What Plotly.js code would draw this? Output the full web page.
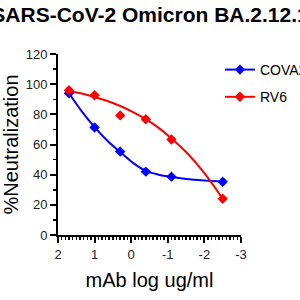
<!DOCTYPE html>
<html>
<head>
<meta charset="utf-8">
<script src="https://cdn.plot.ly/plotly-3.0.1.min.js"></script>
<style>html,body{margin:0;padding:0;background:#fff;}#chart{width:300px;height:300px;}</style>
</head>
<body>
<div id="chart"></div>
<script>
// Measured points (x = log10 concentration, y = % neutralization)
const doseLog = [1.7, 1.0, 0.3, -0.4, -1.1, -2.5];
const covaPct = [94, 71.3, 55.3, 42, 38.7, 35.3];
const rv6Pct  = [96, 92.7, 79.3, 76.7, 63.3, 24];

// Fitted curves
const curveX     = [1.7, 1.35, 1.0, 0.65, 0.3, -0.05, -0.4, -0.75, -1.1, -1.5, -2.0, -2.5];
const covaCurveY = [94, 82, 71.5, 62.5, 55, 47.8, 42.5, 40, 38.5, 37.2, 36.2, 35.5];
const rv6CurveY  = [95.5, 93.8, 91.5, 88.8, 85.5, 81.5, 76.8, 71, 64, 55, 41, 24];

const seriesNames = ["COVA2-07", "RV6"];
const xTickVals = [2, 1, 0, -1, -2, -3];
const xTickText = ["2", "1", "0", "-1", "-2", "-3"];
const yTickVals = [0, 20, 40, 60, 80, 100, 120];

const BLUE = "#0000ff", RED = "#ff0000";
const FONT = "Liberation Sans, Arial, sans-serif";

function group(name, color, ys, curveY) {
  return [
    {x: curveX, y: curveY, mode: "lines", line: {color: color, width: 2, shape: "spline"},
     showlegend: false, legendgroup: name, hoverinfo: "skip"},
    {x: doseLog, y: ys, mode: "markers", marker: {symbol: "diamond", size: 8, color: color},
     showlegend: false, legendgroup: name},
    {x: [null], y: [null], mode: "lines+markers", name: name, legendgroup: name,
     line: {color: color, width: 2}, marker: {symbol: "diamond", size: 8, color: color}}
  ];
}

const data = [].concat(
  group(seriesNames[0], BLUE, covaPct, covaCurveY),
  group(seriesNames[1], RED, rv6Pct, rv6CurveY)
);

const axisCommon = {
  showline: true, linecolor: "#000", linewidth: 2, showgrid: false, zeroline: false,
  ticks: "outside", ticklen: 6, tickwidth: 2, tickcolor: "#000",
  tickfont: {family: FONT, size: 13, color: "#222"}
};

const layout = {
  width: 300, height: 300,
  margin: {l: 58, r: 59, t: 54, b: 65, autoexpand: false},
  paper_bgcolor: "#fff", plot_bgcolor: "#fff",
  title: {text: "<b>SARS-CoV-2 Omicron BA.2.12.1</b>", x: 0.5, xanchor: "center", y: 0.95, yanchor: "middle",
          font: {family: FONT, size: 21, color: "#000"}},
  xaxis: Object.assign({}, axisCommon, {
    range: [2, -3], tickmode: "array", tickvals: xTickVals, ticktext: xTickText,
    minor: {dtick: 0.1, ticks: "outside", ticklen: 3, tickwidth: 1.5, tickcolor: "#000"},
    title: {text: "mAb log ug/ml", font: {family: FONT, size: 20, color: "#000"}, standoff: 12}
  }),
  yaxis: Object.assign({}, axisCommon, {
    range: [0, 120], tickmode: "array", tickvals: yTickVals,
    minor: {dtick: 10, ticks: "outside", ticklen: 3, tickwidth: 1.5, tickcolor: "#000"},
    title: {text: "%Neutralization", font: {family: FONT, size: 20, color: "#000"}, standoff: 8}
  }),
  legend: {x: 0.885, xanchor: "left", y: 1.0, yanchor: "top", bgcolor: "rgba(0,0,0,0)",
           font: {family: FONT, size: 14, color: "#000"}, tracegroupgap: 6, traceorder: "grouped"},
  showlegend: true
};

Plotly.newPlot("chart", data, layout, {staticPlot: true, displayModeBar: false});
</script>
</body>
</html>
